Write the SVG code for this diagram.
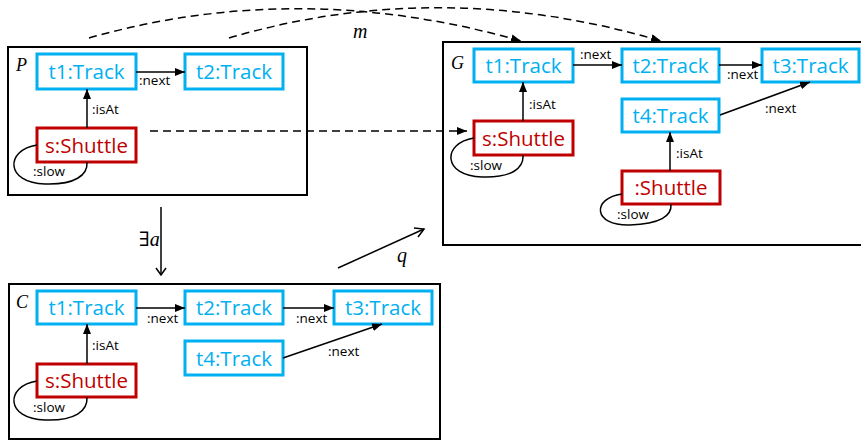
<svg xmlns="http://www.w3.org/2000/svg" width="861" height="441" viewBox="0 0 861 441">
  <style>
    .frame { fill: none; stroke: #000; stroke-width: 2; }
    .track rect { fill: #fff; stroke: #00B0F0; stroke-width: 3; }
    .track text { fill: #00B0F0; }
    .shuttle rect { fill: #fff; stroke: #C00000; stroke-width: 3; }
    .shuttle text { fill: #C00000; }
    .node text { font-family: "Open Sans", "Liberation Sans", sans-serif; font-size: 20.5px; text-anchor: middle; }
    .edge { fill: none; stroke: #000; stroke-width: 1.5; }
    .arr { marker-end: url(#head); }
    .dash { fill: none; stroke: #000; stroke-width: 1.5; stroke-dasharray: 8 5; marker-end: url(#head); }
    .open { fill: none; stroke: #000; stroke-width: 1.5; }
    .lbl { font-family: "Open Sans", "Liberation Sans", sans-serif; font-size: 13.5px; fill: #000; }
    .math { font-family: "Liberation Serif", "DejaVu Serif", serif; font-style: italic; fill: #000; }
  </style>
  <defs>
    <marker id="head" viewBox="0 0 10 8" refX="10" refY="4" markerWidth="10" markerHeight="8" markerUnits="userSpaceOnUse" orient="auto">
      <path d="M0,0 L10,4 L0,8 Z" fill="#000"/>
    </marker>
  </defs>

  <!-- graph frames -->
  <g id="frame-P">
    <rect class="frame" x="8" y="47" width="299" height="148"/>
    <text class="math" x="16" y="71" font-size="18">P</text>
  </g>
  <g id="frame-G">
    <rect class="frame" x="443" y="42" width="430" height="203"/>
    <text class="math" x="451" y="69" font-size="18">G</text>
  </g>
  <g id="frame-C">
    <rect class="frame" x="9" y="284" width="431" height="155"/>
    <text class="math" x="16" y="308" font-size="18">C</text>
  </g>

  <!-- nodes of P -->
  <g id="P-t1" class="node track"><rect x="37" y="54" width="99" height="35"/><text x="86.5" y="79">t1:Track</text></g>
  <g id="P-t2" class="node track"><rect x="185" y="54" width="98" height="35"/><text x="234" y="79">t2:Track</text></g>
  <g id="P-s" class="node shuttle"><rect x="37" y="128" width="99" height="34"/><text x="86.5" y="152.5">s:Shuttle</text></g>

  <!-- nodes of G -->
  <g id="G-t1" class="node track"><rect x="474" y="49" width="99" height="33"/><text x="523.5" y="72.5">t1:Track</text></g>
  <g id="G-t2" class="node track"><rect x="622" y="49" width="97" height="33"/><text x="670.5" y="72.5">t2:Track</text></g>
  <g id="G-t3" class="node track"><rect x="762" y="49" width="97" height="33"/><text x="810.5" y="72.5">t3:Track</text></g>
  <g id="G-t4" class="node track"><rect x="622" y="99" width="97" height="33"/><text x="670.5" y="122.5">t4:Track</text></g>
  <g id="G-s" class="node shuttle"><rect x="474" y="121" width="99" height="34"/><text x="523.5" y="145.5">s:Shuttle</text></g>
  <g id="G-u" class="node shuttle"><rect x="622" y="171" width="98" height="33"/><text x="671" y="195">:Shuttle</text></g>

  <!-- nodes of C -->
  <g id="C-t1" class="node track"><rect x="37" y="291" width="99" height="33"/><text x="86.5" y="315">t1:Track</text></g>
  <g id="C-t2" class="node track"><rect x="185" y="291" width="98" height="33"/><text x="234" y="315">t2:Track</text></g>
  <g id="C-t3" class="node track"><rect x="334" y="291" width="98" height="33"/><text x="383" y="315">t3:Track</text></g>
  <g id="C-t4" class="node track"><rect x="185" y="341" width="98" height="34"/><text x="234" y="365.5">t4:Track</text></g>
  <g id="C-s" class="node shuttle"><rect x="37" y="364" width="99" height="33"/><text x="86.5" y="388">s:Shuttle</text></g>

  <g id="connectors">
    <!-- P -->
    <line class="edge arr" x1="136" y1="72" x2="185" y2="72"/>
    <line class="edge arr" x1="87" y1="128" x2="87" y2="89"/>
    <path class="edge" d="M37,145 C5,150 5,183 45,184 C75,185 88,175 87,162"/>
    <text class="lbl" x="139" y="85">:next</text>
    <text class="lbl" x="92" y="114">:isAt</text>
    <text class="lbl" x="33" y="176">:slow</text>

    <!-- G -->
    <line class="edge arr" x1="573" y1="65" x2="622" y2="65"/>
    <line class="edge arr" x1="719" y1="65" x2="762" y2="65"/>
    <line class="edge arr" x1="720" y1="115" x2="810" y2="82"/>
    <line class="edge arr" x1="523" y1="121" x2="523" y2="82"/>
    <line class="edge arr" x1="670" y1="171" x2="670" y2="132"/>
    <path class="edge" d="M474,138 C442,143 442,176 482,177 C512,178 524,168 523,155"/>
    <path class="edge" d="M622,194 C592,198 592,226 630,225 C660,224 672,216 671,204"/>
    <text class="lbl" x="580" y="59">:next</text>
    <text class="lbl" x="727" y="79">:next</text>
    <text class="lbl" x="765" y="113">:next</text>
    <text class="lbl" x="529" y="109">:isAt</text>
    <text class="lbl" x="676" y="158">:isAt</text>
    <text class="lbl" x="470" y="170">:slow</text>
    <text class="lbl" x="617" y="219">:slow</text>

    <!-- C -->
    <line class="edge arr" x1="136" y1="308" x2="185" y2="308"/>
    <line class="edge arr" x1="283" y1="308" x2="334" y2="308"/>
    <line class="edge arr" x1="283" y1="358" x2="382" y2="324"/>
    <line class="edge arr" x1="87" y1="364" x2="87" y2="324"/>
    <path class="edge" d="M37,381 C5,386 5,419 45,420 C75,421 88,411 87,397"/>
    <text class="lbl" x="147" y="323">:next</text>
    <text class="lbl" x="296" y="323">:next</text>
    <text class="lbl" x="328" y="356">:next</text>
    <text class="lbl" x="92" y="350">:isAt</text>
    <text class="lbl" x="33" y="412">:slow</text>

    <!-- match m (dashed) -->
    <path class="dash" d="M89,38 Q300,-22 521,41"/>
    <path class="dash" d="M229,38 Q440,-24 661,41"/>
    <line class="dash" x1="150" y1="131" x2="467" y2="131"/>
    <text class="math" x="353" y="38" font-size="20">m</text>

    <!-- morphisms a and q -->
    <line class="open" x1="161" y1="207" x2="161" y2="275"/>
    <polyline class="open" points="156,268 161,275 166,268"/>
    <text class="math" x="139" y="246" font-size="20"><tspan font-style="normal">∃</tspan>a</text>
    <line class="open" x1="338" y1="268" x2="424" y2="229"/>
    <polyline class="open" points="414,228 424,229 418,237"/>
    <text class="math" x="397" y="262" font-size="20">q</text>
  </g>
</svg>
